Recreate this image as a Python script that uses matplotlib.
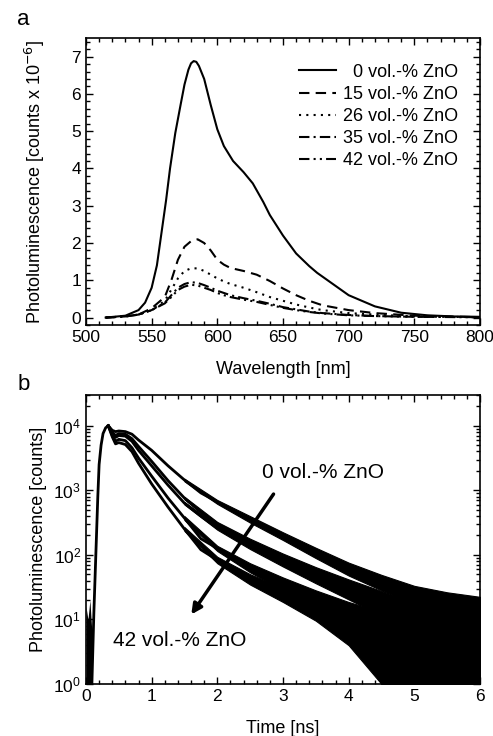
import matplotlib
matplotlib.use('Agg')
import matplotlib.pyplot as plt
import numpy as np
from matplotlib.ticker import MultipleLocator, LogLocator, NullFormatter

plt.rcParams['font.family'] = ['Liberation Sans', 'DejaVu Sans']

# ---- panel a: PL spectra (counts x 1e-6) ----
labels = ['  0 vol.-% ZnO', '15 vol.-% ZnO', '26 vol.-% ZnO', '35 vol.-% ZnO', '42 vol.-% ZnO']

wl_0 = [515, 530, 540, 545, 550, 554, 558, 561, 564, 568, 572, 575, 578, 580, 582, 584, 586, 590,
        595, 600, 605, 612, 620, 627, 635, 640, 650, 660, 670, 676, 690, 700, 720, 740, 760, 780, 800]
pl_0 = [0.0, 0.05, 0.2, 0.4, 0.8, 1.4, 2.4, 3.15, 4.0, 4.95, 5.7, 6.25, 6.65, 6.82, 6.88, 6.86,
        6.75, 6.4, 5.7, 5.05, 4.6, 4.2, 3.9, 3.6, 3.1, 2.75, 2.2, 1.72, 1.38, 1.2, 0.85, 0.6, 0.3,
        0.13, 0.06, 0.03, 0.02]

wl_s = [515, 530, 540, 550, 560, 565, 570, 575, 580, 585, 590, 595, 600, 605, 610, 620, 630, 640,
        650, 660, 670, 680, 700, 720, 750, 800]
pl_15 = [0.0, 0.03, 0.08, 0.25, 0.55, 1.0, 1.55, 1.9, 2.05, 2.1, 2.0, 1.8, 1.55, 1.42, 1.33, 1.25,
         1.15, 0.98, 0.78, 0.6, 0.45, 0.33, 0.2, 0.12, 0.05, 0.01]
pl_26 = [0.0, 0.03, 0.08, 0.2, 0.45, 0.75, 1.05, 1.25, 1.32, 1.32, 1.25, 1.15, 1.05, 0.97, 0.9, 0.8,
         0.68, 0.55, 0.45, 0.35, 0.27, 0.2, 0.12, 0.08, 0.03, 0.01]
pl_35 = [0.0, 0.03, 0.08, 0.2, 0.4, 0.6, 0.8, 0.9, 0.95, 0.93, 0.87, 0.8, 0.72, 0.66, 0.6, 0.52,
         0.45, 0.37, 0.28, 0.22, 0.16, 0.12, 0.07, 0.04, 0.02, 0.01]
pl_42 = [0.0, 0.03, 0.08, 0.2, 0.38, 0.55, 0.74, 0.83, 0.88, 0.86, 0.8, 0.74, 0.66, 0.6, 0.55, 0.48,
         0.42, 0.34, 0.26, 0.2, 0.15, 0.11, 0.06, 0.04, 0.02, 0.01]

# ---- panel b: PL decays (log10 counts) ----
t_rise = [0.0, 0.09, 0.12, 0.15, 0.18, 0.2, 0.23, 0.26, 0.3, 0.34]
log_rise = [0.0, 0.0, 1.1, 2.0, 2.9, 3.4, 3.7, 3.88, 3.97, 4.0]

t_decay = [0.34, 0.4, 0.45, 0.5, 0.6, 0.7, 0.8, 1.0, 1.25, 1.5, 1.75, 2.0, 2.5, 3.0, 3.5, 4.0, 4.5,
           5.0, 5.5, 6.0]
log_0 = [4.0, 3.93, 3.91, 3.92, 3.91, 3.87, 3.78, 3.62, 3.38, 3.16, 2.96, 2.82, 2.55, 2.29, 2.03,
         1.78, 1.57, 1.38, 1.22, 1.08]
log_15 = [4.0, 3.9, 3.85, 3.88, 3.87, 3.8, 3.68, 3.45, 3.15, 2.88, 2.66, 2.48, 2.2, 1.95, 1.72,
          1.5, 1.3, 1.1, 0.95, 0.8]
log_26 = [4.0, 3.88, 3.82, 3.85, 3.84, 3.76, 3.62, 3.38, 3.08, 2.8, 2.6, 2.42, 2.14, 1.89, 1.66,
          1.44, 1.24, 1.05, 0.9, 0.75]
log_35 = [4.0, 3.85, 3.76, 3.79, 3.77, 3.66, 3.5, 3.22, 2.88, 2.57, 2.25, 2.1, 1.8, 1.55, 1.3,
          1.07, 0.85, 0.65, 0.5, 0.4]
log_42 = [4.0, 3.83, 3.72, 3.74, 3.71, 3.6, 3.42, 3.1, 2.74, 2.4, 2.08, 1.92, 1.62, 1.38, 1.15,
          0.9, 0.72, 0.55, 0.4, 0.3]

# noise band of the tails (log10 counts)
t_tail = [1.5, 2.0, 2.5, 3.0, 3.5, 4.0, 4.5, 5.0, 5.5, 6.0]
lo_0 = [3.14, 2.79, 2.5, 2.23, 1.95, 1.68, 1.45, 1.24, 1.04, 0.85]
hi_0 = [3.18, 2.85, 2.6, 2.35, 2.11, 1.88, 1.69, 1.52, 1.42, 1.35]
lo_15 = [2.86, 2.45, 2.15, 1.88, 1.63, 1.38, 1.14, 0.9, 0.7, 0.5]
hi_15 = [2.9, 2.51, 2.25, 2.02, 1.81, 1.62, 1.44, 1.26, 1.16, 1.06]
lo_26 = [2.78, 2.39, 2.09, 1.82, 1.56, 1.31, 1.06, 0.8, 0.6, 0.4]
hi_26 = [2.82, 2.45, 2.19, 1.96, 1.76, 1.57, 1.4, 1.24, 1.14, 1.04]
lo_35 = [2.54, 2.06, 1.73, 1.45, 1.15, 0.85, 0.0, 0.0, 0.0, 0.0]
hi_35 = [2.6, 2.14, 1.87, 1.65, 1.45, 1.27, 1.12, 1.0, 0.93, 0.88]
lo_42 = [2.37, 1.87, 1.54, 1.27, 0.98, 0.6, 0.0, 0.0, 0.0, 0.0]
hi_42 = [2.43, 1.97, 1.7, 1.49, 1.32, 1.17, 1.05, 0.95, 0.87, 0.8]

# pre-pulse noise near t = 0
t_pre = [0.0, 0.03, 0.06, 0.09]
lo_pre = [0.0, 0.0, 0.0, 0.0]
hi_pre = [1.2, 1.0, 1.3, 0.8]


def style_axes(ax):
    ax.tick_params(which='both', direction='in', top=True, right=True, labelsize=12.5, width=1)
    ax.tick_params(which='major', length=5)
    ax.tick_params(which='minor', length=3)
    for sp in ax.spines.values():
        sp.set_linewidth(1.2)


fig = plt.figure(figsize=(4.93, 7.36), dpi=100)

# panel a
ax1 = fig.add_axes([0.1744, 0.5584, 0.7992, 0.39])
ax1.plot(wl_0, pl_0, color='black', lw=1.5, ls='-', label=labels[0])
ax1.plot(wl_s, pl_15, color='black', lw=1.5, ls=(0, (5, 3)), label=labels[1])
ax1.plot(wl_s, pl_26, color='black', lw=1.5, ls=(0, (1, 2.5)), label=labels[2])
ax1.plot(wl_s, pl_35, color='black', lw=1.5, ls=(0, (5, 2, 1, 2)), label=labels[3])
ax1.plot(wl_s, pl_42, color='black', lw=1.5, ls=(0, (5, 2, 1, 2, 1, 2)), label=labels[4])
ax1.set_xlim(500, 800)
ax1.set_ylim(-0.2, 7.5)
ax1.xaxis.set_major_locator(MultipleLocator(50))
ax1.xaxis.set_minor_locator(MultipleLocator(10))
ax1.yaxis.set_major_locator(MultipleLocator(1))
ax1.yaxis.set_minor_locator(MultipleLocator(0.2))
style_axes(ax1)
ax1.set_xlabel('Wavelength [nm]', fontsize=13, va='top')
ax1.xaxis.set_label_coords(0.5, -0.125)
ax1.set_ylabel('Photoluminescence [counts x 10$^{-6}$]', fontsize=13)
ax1.yaxis.set_label_coords(-0.099, 0.5)
ax1.legend(loc='upper right', frameon=False, fontsize=13, handlelength=2.0,
           handletextpad=0.4, labelspacing=0.28, borderpad=0, borderaxespad=0,
           bbox_to_anchor=(0.944, 0.91))
fig.text(0.035, 0.973, 'a', fontsize=16, va='center')

# panel b
ax2 = fig.add_axes([0.1744, 0.0707, 0.7992, 0.3926])
ax2.fill_between(t_pre, 10 ** np.array(lo_pre), 10 ** np.array(hi_pre), color='black', lw=0)
ax2.plot(t_rise, 10 ** np.array(log_rise), color='black', lw=2)
for lg, lo, hi in [(log_0, lo_0, hi_0), (log_15, lo_15, hi_15), (log_26, lo_26, hi_26),
                   (log_35, lo_35, hi_35), (log_42, lo_42, hi_42)]:
    ax2.plot(t_decay, 10 ** np.array(lg), color='black', lw=2)
    ax2.fill_between(t_tail, 10 ** np.array(lo), 10 ** np.array(hi), color='black', lw=0.8,
                     edgecolor='black')
ax2.set_yscale('log')
ax2.set_xlim(0, 6)
ax2.set_ylim(1, 3e4)
ax2.xaxis.set_major_locator(MultipleLocator(1))
ax2.xaxis.set_minor_locator(MultipleLocator(0.2))
ax2.yaxis.set_major_locator(LogLocator(base=10, numticks=10))
ax2.yaxis.set_minor_locator(LogLocator(base=10, subs=np.arange(2, 10), numticks=10))
ax2.yaxis.set_minor_formatter(NullFormatter())
style_axes(ax2)
ax2.set_xlabel('Time [ns]', fontsize=13, va='top')
ax2.xaxis.set_label_coords(0.5, -0.125)
ax2.set_ylabel('Photoluminescence [counts]', fontsize=13)
ax2.yaxis.set_label_coords(-0.099, 0.5)
ax2.annotate('', xy=(1.58, 11), xytext=(2.88, 950),
             arrowprops=dict(arrowstyle='-|>,head_length=0.6,head_width=0.3', color='black', lw=2.5))
ax2.text(3.61, 10 ** 3.27, '0 vol.-% ZnO', fontsize=15, ha='center', va='center')
ax2.text(1.43, 10 ** 0.68, '42 vol.-% ZnO', fontsize=15, ha='center', va='center')
fig.text(0.035, 0.477, 'b', fontsize=16, va='center')

fig.savefig('out.png', dpi=100)
